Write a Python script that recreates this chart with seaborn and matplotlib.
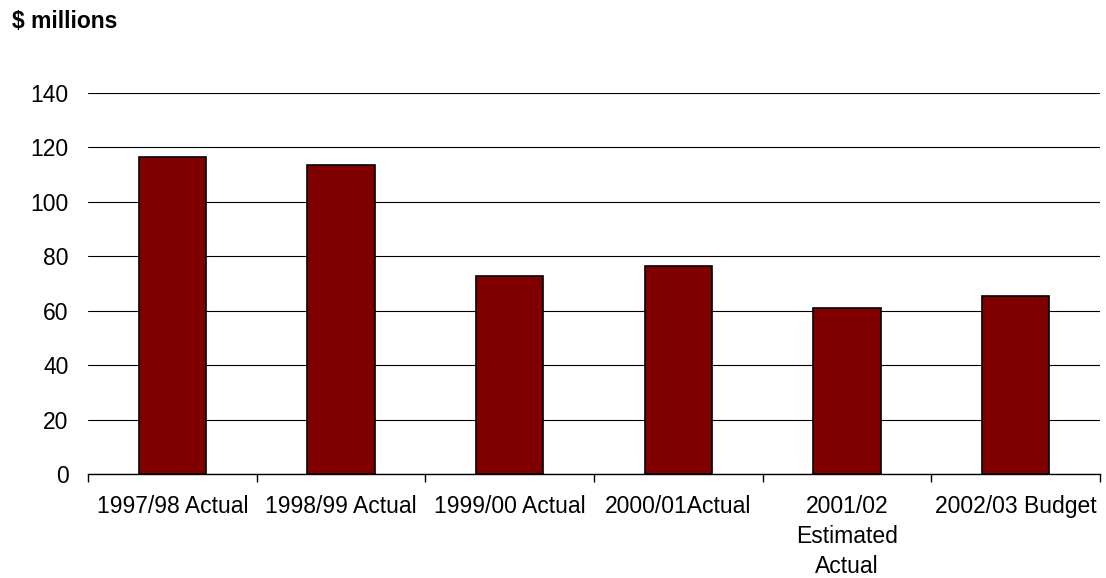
import matplotlib
matplotlib.use('Agg')
import matplotlib.pyplot as plt
import seaborn as sns
import pandas as pd

# Values ($ millions)
categories = ['1997/98 Actual', '1998/99 Actual', '1999/00 Actual',
              '2000/01Actual', '2001/02\nEstimated\nActual', '2002/03 Budget']
values = [116.6, 113.6, 72.7, 76.3, 61.0, 65.3]
y_ticks = [0, 20, 40, 60, 80, 100, 120, 140]

data = pd.DataFrame({'category': categories, 'value': values})

sns.set_style('white')
plt.rcParams['font.family'] = ['Liberation Sans', 'DejaVu Sans']
plt.rcParams['text.color'] = 'black'
plt.rcParams['xtick.color'] = 'black'
plt.rcParams['ytick.color'] = 'black'

fig = plt.figure(figsize=(11.06, 5.78), dpi=100)
ax = fig.add_axes([0.0796, 0.18, 0.915, 0.659])

sns.barplot(data=data, x='category', y='value', color='#800000', saturation=1,
            width=0.4, edgecolor='black', linewidth=1.2, ax=ax, zorder=3)

ax.set_ylim(0, 140)
ax.set_xlim(-0.5, len(categories) - 0.5)
ax.set_yticks(y_ticks)
ax.yaxis.grid(True, color='black', linewidth=0.8, zorder=0)
ax.set_axisbelow(True)

# ticks between categories on the x axis
ax.set_xticks(list(range(len(categories))))
ax.set_xticklabels(categories, fontsize=16.5, linespacing=1.4)
ax.tick_params(axis='x', which='major', length=0, pad=15)
ax.set_xticks([i - 0.5 for i in range(len(categories) + 1)], minor=True)
ax.tick_params(axis='x', which='minor', bottom=True, length=6, width=1,
               color='black', direction='out')
ax.tick_params(axis='y', labelsize=16.5, length=0, pad=14)

for s in ['left', 'right', 'top']:
    ax.spines[s].set_visible(False)
ax.spines['bottom'].set_color('black')
ax.spines['bottom'].set_linewidth(1)

ax.set_xlabel('')
ax.set_ylabel('')

fig.text(0.011, 1 - 28 / 578, '$ millions', fontsize=16.5, fontweight='bold',
         va='baseline', ha='left')

fig.savefig('out.png', dpi=100)
